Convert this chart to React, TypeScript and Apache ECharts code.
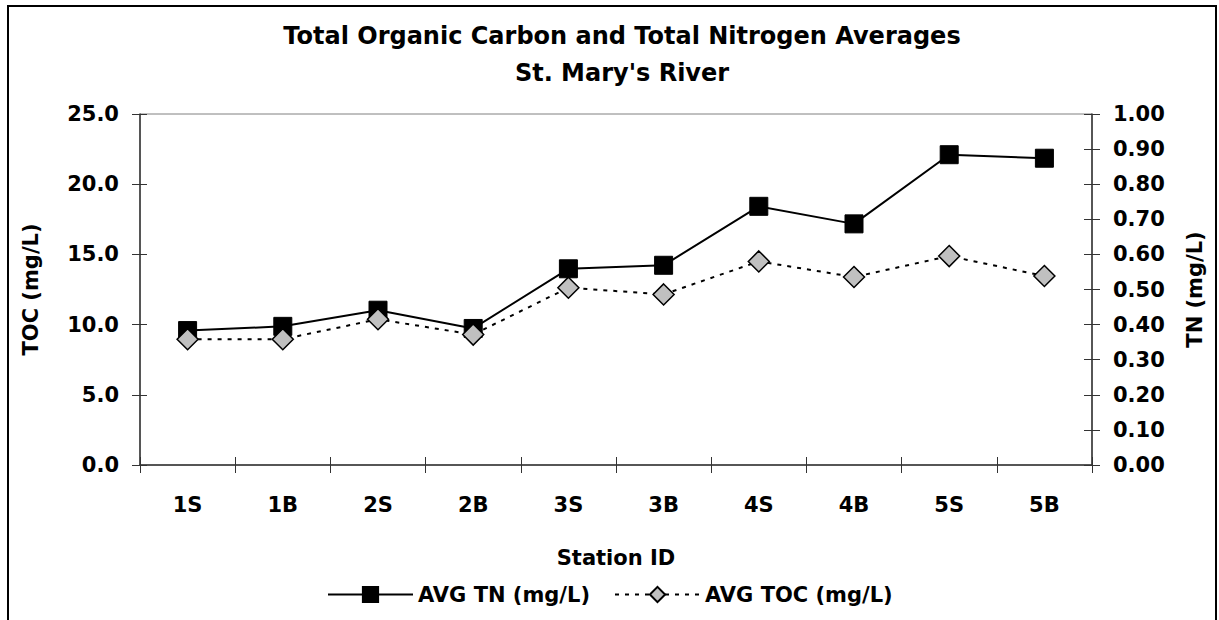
import React, { useEffect, useRef } from "react";
import * as echarts from "echarts";

const TITLE_LINES = ["Total Organic Carbon and Total Nitrogen Averages", "St. Mary's River"];
const STATIONS = ["1S", "1B", "2S", "2B", "3S", "3B", "4S", "4B", "5S", "5B"];
const AVG_TN = [0.383, 0.395, 0.441, 0.389, 0.559, 0.569, 0.737, 0.687, 0.884, 0.874];
const AVG_TOC = [8.96, 8.96, 10.38, 9.29, 12.63, 12.15, 14.5, 13.39, 14.88, 13.46];
const TOC_AXIS = { min: 0, max: 25, interval: 5, name: "TOC (mg/L)" };
const TN_AXIS = { min: 0, max: 1, interval: 0.1, name: "TN (mg/L)" };
const X_NAME = "Station ID";
const SERIES_NAMES = ["AVG TN (mg/L)", "AVG TOC (mg/L)"];

const FONT = '"DejaVu Sans", "Liberation Sans", sans-serif';
const AXIS_COLOR = "#333";

export default function App() {
  const ref = useRef<HTMLDivElement | null>(null);

  useEffect(() => {
    if (!ref.current) return;
    const chart = echarts.init(ref.current, undefined, { renderer: "svg" });
    const txt = { fontFamily: FONT, fontWeight: "bold" as const, fontSize: 21, color: "#000" };

    chart.setOption({
      animation: false,
      backgroundColor: "#fff",
      title: {
        text: TITLE_LINES.join("\n"),
        left: 617,
        top: 12,
        textAlign: "center",
        textStyle: { ...txt, fontSize: 24, lineHeight: 37 },
      },
      graphic: [
        {
          type: "rect",
          silent: true,
          shape: { x: 8, y: 6, width: 1208, height: 650 },
          style: { fill: "none", stroke: "#000", lineWidth: 2 },
        },
      ],
      grid: {
        left: 140,
        right: 127,
        top: 114,
        bottom: 155,
        show: true,
        borderColor: "#808080",
        borderWidth: 1,
        backgroundColor: "transparent",
      },
      legend: {
        data: SERIES_NAMES,
        left: 322,
        top: 579,
        itemWidth: 85,
        itemHeight: 19,
        itemGap: 24,
        textStyle: txt,
      },
      xAxis: [
        {
          type: "category",
          data: STATIONS,
          boundaryGap: true,
          position: "bottom",
          name: X_NAME,
          nameLocation: "middle",
          nameGap: 82,
          nameTextStyle: txt,
          axisLine: { lineStyle: { color: AXIS_COLOR, width: 1.5 } },
          axisTick: { show: true, length: 8, lineStyle: { color: AXIS_COLOR } },
          axisLabel: { ...txt, margin: 29 },
          splitLine: { show: false },
        },
        {
          type: "category",
          data: STATIONS,
          boundaryGap: true,
          position: "bottom",
          axisLine: { show: false },
          axisTick: { show: true, inside: true, length: 8, lineStyle: { color: AXIS_COLOR } },
          axisLabel: { show: false },
          splitLine: { show: false },
        },
      ],
      yAxis: [
        {
          type: "value",
          position: "left",
          min: TOC_AXIS.min,
          max: TOC_AXIS.max,
          interval: TOC_AXIS.interval,
          name: TOC_AXIS.name,
          nameLocation: "middle",
          nameGap: 99,
          nameTextStyle: txt,
          axisLine: { show: true, lineStyle: { color: AXIS_COLOR, width: 1.5 } },
          axisTick: { show: true, length: 8, lineStyle: { color: AXIS_COLOR } },
          axisLabel: { ...txt, margin: 21, formatter: (v: number) => v.toFixed(1) },
          splitLine: { show: false },
        },
        {
          type: "value",
          position: "right",
          min: TN_AXIS.min,
          max: TN_AXIS.max,
          interval: TN_AXIS.interval,
          name: TN_AXIS.name,
          nameLocation: "middle",
          nameGap: 92,
          nameTextStyle: txt,
          axisLine: { show: true, lineStyle: { color: AXIS_COLOR, width: 1.5 } },
          axisTick: { show: true, length: 8, lineStyle: { color: AXIS_COLOR } },
          axisLabel: { ...txt, margin: 21, formatter: (v: number) => v.toFixed(2) },
          splitLine: { show: false },
        },
        {
          type: "value",
          position: "left",
          min: TOC_AXIS.min,
          max: TOC_AXIS.max,
          interval: TOC_AXIS.interval,
          axisLine: { show: false },
          axisTick: { show: true, inside: true, length: 7, lineStyle: { color: AXIS_COLOR } },
          axisLabel: { show: false },
          splitLine: { show: false },
        },
        {
          type: "value",
          position: "right",
          min: TN_AXIS.min,
          max: TN_AXIS.max,
          interval: TN_AXIS.interval,
          axisLine: { show: false },
          axisTick: { show: true, inside: true, length: 8, lineStyle: { color: AXIS_COLOR } },
          axisLabel: { show: false },
          splitLine: { show: false },
        },
      ],
      series: [
        {
          name: SERIES_NAMES[0],
          type: "line",
          xAxisIndex: 0,
          yAxisIndex: 1,
          data: AVG_TN,
          symbol: "rect",
          symbolSize: 18,
          showAllSymbol: true,
          lineStyle: { color: "#000", width: 2, type: "solid" },
          itemStyle: { color: "#000", borderColor: "#000", borderWidth: 1 },
          z: 2,
        },
        {
          name: SERIES_NAMES[1],
          type: "line",
          xAxisIndex: 0,
          yAxisIndex: 0,
          data: AVG_TOC,
          symbol: "diamond",
          symbolSize: 21,
          showAllSymbol: true,
          lineStyle: { color: "#000", width: 2, type: [4, 6] },
          itemStyle: { color: "#C0C0C0", borderColor: "#000", borderWidth: 1.5 },
          z: 3,
        },
      ],
    });

    return () => chart.dispose();
  }, []);

  return (
    <div
      ref={ref}
      style={{ position: "absolute", left: 0, top: 0, width: 1219, height: 620, background: "#fff" }}
    />
  );
}
